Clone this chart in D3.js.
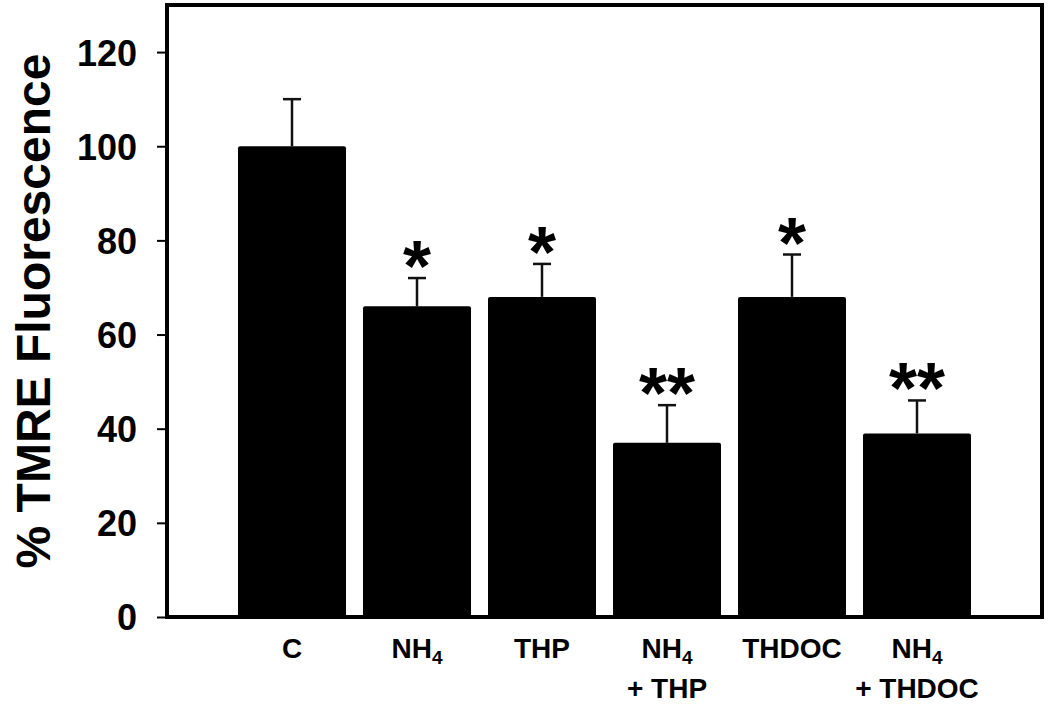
<html>
<script src='https://d3js.org/d3.v7.min.js'></script>
<style>
body {margin: 0; background: white;}
text {font-family: "Liberation Sans", Arial, sans-serif; font-weight: bold; fill: black;}
</style>
<body onload='init()'>
<svg width=1050 height=705></svg>
<script>
// data
var categories = ["C", "NH4", "THP", "NH4 + THP", "THDOC", "NH4 + THDOC"];
var means = [100, 66, 68, 37, 68, 39];
var errors = [10, 6, 7, 8, 9, 7];
var stars = ["", "*", "*", "**", "*", "**"];
var yTicks = [0, 20, 40, 60, 80, 100, 120];

function init() {
var left = 167, right = 1042, top = 5, bottom = 617;

var svg = d3.select("svg");

var x = d3.scaleBand().domain(categories).range([left, right])
    .paddingInner(0.136).paddingOuter(0.568);
var y = d3.scaleLinear().domain([0, 130]).range([bottom, top]);

// bars
svg.append("g").selectAll("rect")
    .data(categories)
    .enter()
    .append("rect")
     .attr("x", function(d) {return x(d);})
     .attr("width", x.bandwidth())
     .attr("y", function(d,i) {return y(means[i]);})
     .attr("height", function(d,i) {return y(0) - y(means[i]);})
     .attr("rx", 2)
     .style("fill", "black");

// upper error bars
var eb = svg.append("g").selectAll("g")
    .data(categories)
    .enter()
    .append("g")
     .style("stroke", "#111").style("stroke-width", 2.5);
eb.append("line")
    .attr("x1", function(d) {return x(d) + x.bandwidth()/2;})
    .attr("x2", function(d) {return x(d) + x.bandwidth()/2;})
    .attr("y1", function(d,i) {return y(means[i]);})
    .attr("y2", function(d,i) {return y(means[i] + errors[i]);});
eb.append("line")
    .attr("x1", function(d) {return x(d) + x.bandwidth()/2 - 9;})
    .attr("x2", function(d) {return x(d) + x.bandwidth()/2 + 9;})
    .attr("y1", function(d,i) {return y(means[i] + errors[i]);})
    .attr("y2", function(d,i) {return y(means[i] + errors[i]);});

// significance stars
svg.append("g").selectAll("text")
    .data(categories)
    .enter()
    .append("text")
     .attr("x", function(d) {return x(d) + x.bandwidth()/2;})
     .attr("y", function(d,i) {return y(means[i] + errors[i]) + 13;})
     .style("text-anchor", "middle")
     .style("font-size", "72px")
     .text(function(d,i) {return stars[i];});

// y axis
var yAxis = svg.append("g")
   .attr("transform", "translate(" + left + ",0)")
   .call(d3.axisLeft(y).tickValues(yTicks).tickSize(10).tickPadding(20));
yAxis.select(".domain").remove();
yAxis.selectAll(".tick line").style("stroke", "black").style("stroke-width", 2);
yAxis.selectAll(".tick text")
   .style("font-family", "'Liberation Sans', Arial, sans-serif")
   .style("font-weight", "bold")
   .style("font-size", "36px")
   .attr("dy", "0.36em");

// frame
svg.append("rect")
   .attr("x", left).attr("y", top)
   .attr("width", right - left).attr("height", bottom - top)
   .style("fill", "none").style("stroke", "black").style("stroke-width", 4);

// category labels, with subscript 4 in NH4
var lab = svg.append("g").selectAll("text")
    .data(categories)
    .enter()
    .append("text")
     .attr("x", function(d) {return x(d) + x.bandwidth()/2;})
     .attr("y", 658)
     .style("text-anchor", "middle")
     .style("font-size", "28px");
lab.each(function(d) {
    var t = d3.select(this);
    var lines = d.indexOf(" + ") > 0 ? [d.split(" + ")[0], "+ " + d.split(" + ")[1]] : [d];
    lines.forEach(function(line, k) {
        var parts = line.split("4");
        t.append("tspan")
            .attr("x", x(d) + x.bandwidth()/2)
            .attr("dy", k == 0 ? 0 : 34)
            .text(parts[0]);
        if (parts.length > 1) {
            t.append("tspan").attr("dy", 6).style("font-size", "19px").text("4");
            t.append("tspan").attr("dy", -6).text(parts[1]);
        }
    });
});

// y label
svg.append("text")
    .attr("transform", "translate(50,311) rotate(-90)")
    .style("text-anchor", "middle")
    .style("font-size", "48px")
    .text("% TMRE Fluorescence");
}
</script>
</body>
</html>
